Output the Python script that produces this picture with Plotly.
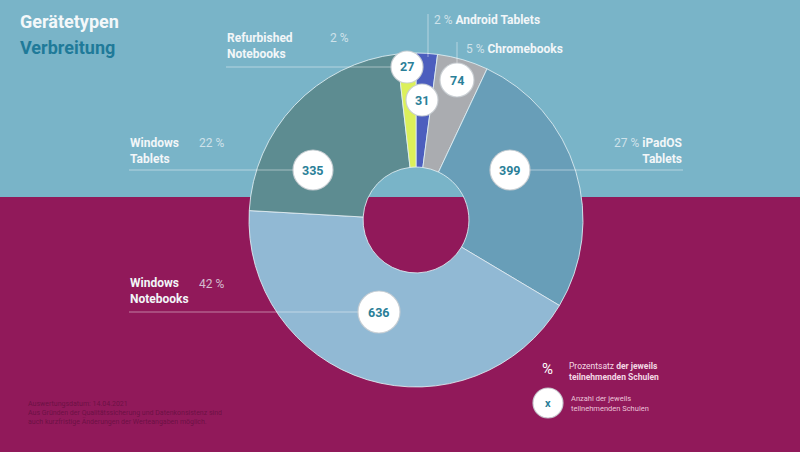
import plotly.graph_objects as go

# ---- data (clockwise from 12 o'clock) ----
categories = ["Android Tablets", "Chromebooks", "iPadOS Tablets",
              "Windows Notebooks", "Windows Tablets", "Refurbished Notebooks"]
values = [31, 74, 399, 636, 335, 27]
slice_colors = ["#4C5EBE", "#AAACB0", "#689EB8", "#91B9D4", "#5D8C91", "#DCF05A"]

total = sum(values)
pct = {c: f"{round(v / total * 100)} %" for c, v in zip(categories, values)}
val = dict(zip(categories, values))

W, H = 800, 452
BG_TOP = "#79B4C8"
BG_BOTTOM = "#91195A"
TEAL = "#2B7F98"
FONT = "Roboto"

def px(x):
    return x / W

def py(y):
    return 1 - y / H

fig = go.Figure()
fig.add_trace(go.Pie(
    labels=categories, values=values, sort=False, direction="clockwise",
    rotation=0, hole=0.317, textinfo="none",
    marker=dict(colors=slice_colors, line=dict(color="rgba(225,238,243,0.85)", width=1)),
    domain=dict(x=[px(249), px(583)], y=[py(387), py(53)]),
    showlegend=False,
))

shapes = [
    dict(type="rect", xref="paper", yref="paper", x0=0, x1=1, y0=py(197), y1=1,
         fillcolor=BG_TOP, line=dict(width=0), layer="below"),
    dict(type="rect", xref="paper", yref="paper", x0=0, x1=1, y0=0, y1=py(197),
         fillcolor=BG_BOTTOM, line=dict(width=0), layer="below"),
]
LINE = dict(color="rgba(255,255,255,0.45)", width=1)

def hline(x0, x1, y):
    shapes.append(dict(type="line", xref="paper", yref="paper", x0=px(x0), x1=px(x1),
                       y0=py(y), y1=py(y), line=LINE, layer="above"))

def vline(x, y0, y1):
    shapes.append(dict(type="line", xref="paper", yref="paper", x0=px(x), x1=px(x),
                       y0=py(y0), y1=py(y1), line=LINE, layer="above"))

# leader lines
hline(226, 392, 67)      # Refurbished
vline(428, 14, 57)       # Android
vline(457, 42, 64)       # Chromebooks
hline(129, 293, 170)     # Windows Tablets
hline(530, 683, 170)     # iPadOS
hline(129, 359, 312)     # Windows Notebooks

annotations = []

def circle(cx, cy, r, text, size=12.5):
    shapes.append(dict(type="circle", xref="paper", yref="paper",
                       x0=px(cx - r), x1=px(cx + r), y0=py(cy + r), y1=py(cy - r),
                       fillcolor="white", line=dict(color="rgba(200,205,210,0.9)", width=1.2),
                       layer="above"))
    annotations.append(dict(xref="paper", yref="paper", x=px(cx), y=py(cy),
                            xanchor="center", yanchor="middle", showarrow=False,
                            text=f"<b>{text}</b>", font=dict(family=FONT, size=size, color=TEAL)))

# value badges
circle(407, 67, 16, val["Refurbished Notebooks"])
circle(422, 100, 16, val["Android Tablets"])
circle(457, 80, 17, val["Chromebooks"])
circle(313, 170, 20, val["Windows Tablets"])
circle(510, 170, 20, val["iPadOS Tablets"])
circle(379, 312, 21, val["Windows Notebooks"])

def text(x, y, t, size=12, color="white", xanchor="left", align="left", yanchor="middle"):
    annotations.append(dict(xref="paper", yref="paper", x=px(x), y=py(y),
                            xanchor=xanchor, yanchor=yanchor, align=align, showarrow=False,
                            text=t, font=dict(family=FONT, size=size, color=color)))

LBL = "#F2F6F8"
PCT = "rgba(235,242,246,0.75)"

# title
text(18, 22, "<b>Gerätetypen</b>", size=18, color="#F4F8FA")
text(18, 48, "<b>Verbreitung</b>", size=18, color="#1F7A99")

# category labels
text(225, 45.5, "<b>Refurbished<br>Notebooks</b>", color=LBL)
text(328, 38, pct["Refurbished Notebooks"], color=PCT)

text(432, 20, f"<span style='color:{PCT}'>{pct['Android Tablets']}</span> <b>Android Tablets</b>", color=LBL)
text(464, 49, f"<span style='color:{PCT}'>{pct['Chromebooks']}</span> <b>Chromebooks</b>", color=LBL)

text(128, 150.5, "<b>Windows<br>Tablets</b>", color=LBL)
text(197, 143, pct["Windows Tablets"], color=PCT)

text(684, 150.5, f"<span style='color:{PCT}'>{pct['iPadOS Tablets']}</span> <b>iPadOS</b><br><b>Tablets</b>",
     color=LBL, xanchor="right", align="right")

text(128, 291, "<b>Windows<br>Notebooks</b>", color=LBL)
text(197, 284, pct["Windows Notebooks"], color=PCT)

# key (bottom right)
text(547, 369, "%", size=15, color="white", xanchor="center")
text(567, 371, "Prozentsatz <b>der jeweils</b><br><b>teilnehmenden Schulen</b>", size=8.5,
     color="rgba(255,235,245,0.92)")
circle(548, 403, 15, "x", size=11)
text(569, 403, "Anzahl der jeweils<br>teilnehmenden Schulen", size=7.5,
     color="rgba(255,225,238,0.85)")

# footnote (bottom left)
text(26, 413, "Auswertungsdatum: 14.04.2021<br>Aus Gründen der Qualitätssicherung und Datenkonsistenz sind<br>"
     "auch kurzfristige Änderungen der Werteangaben möglich.", size=7,
     color="rgba(70,10,45,0.5)")

fig.update_layout(
    width=W, height=H, margin=dict(l=0, r=0, t=0, b=0),
    paper_bgcolor=BG_BOTTOM, plot_bgcolor=BG_BOTTOM,
    shapes=shapes, annotations=annotations, showlegend=False,
    font=dict(family=FONT),
)

fig.write_html("out.html", config={"displayModeBar": False},
               post_script="document.body.style.margin='0';")
